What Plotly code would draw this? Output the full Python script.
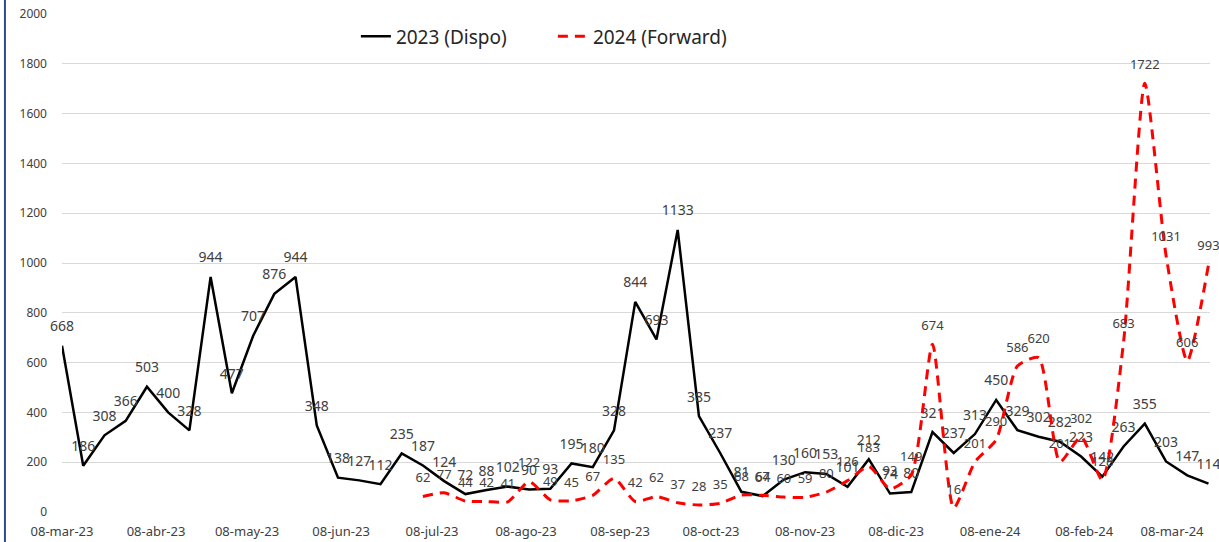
import pandas as pd
import plotly.graph_objects as go

# weekly values
dispo_2023 = [668, 186, 308, 366, 503, 400, 328, 944, 477, 707, 876, 944, 348,
              138, 127, 112, 235, 187, 124, 72, 88, 102, 90, 93, 195, 180, 328,
              844, 693, 1133, 385, 237, 81, 64, 130, 160, 153, 101, 212, 74, 80,
              321, 237, 313, 450, 329, 302, 282, 223, 142, 263, 355, 203, 147, 114]
forward_2024 = [62, 77, 44, 42, 41, 122, 49, 45, 67, 135, 42, 62, 37, 28, 35,
                68, 67, 60, 59, 80, 126, 183, 93, 149, 674, 16, 201, 290, 586,
                620, 201, 302, 128, 683, 1722, 1031, 606, 993]
dispo_start = "2023-03-08"
forward_start = "2023-07-05"

tick_dates = ["2023-03-08", "2023-04-08", "2023-05-08", "2023-06-08", "2023-07-08",
              "2023-08-08", "2023-09-08", "2023-10-08", "2023-11-08", "2023-12-08",
              "2024-01-08", "2024-02-08", "2024-03-08"]
tick_labels = ["08-mar-23", "08-abr-23", "08-may-23", "08-jun-23", "08-jul-23",
               "08-ago-23", "08-sep-23", "08-oct-23", "08-nov-23", "08-dic-23",
               "08-ene-24", "08-feb-24", "08-mar-24"]

dispo_dates = pd.date_range(dispo_start, periods=len(dispo_2023), freq="7D")
forward_dates = pd.date_range(forward_start, periods=len(forward_2024), freq="7D")

FONT = "Noto Sans"

fig = go.Figure()

fig.add_trace(go.Scatter(
    x=dispo_dates, y=dispo_2023, name="2023 (Dispo)",
    mode="lines+markers+text", cliponaxis=False,
    line=dict(color="black", width=2.5),
    marker=dict(size=16, color="rgba(0,0,0,0)"),
    text=[str(v) for v in dispo_2023], textposition="top center",
    textfont=dict(family=FONT, size=14, color="#404040"),
))

fig.add_trace(go.Scatter(
    x=forward_dates, y=forward_2024, name="2024 (Forward)",
    mode="lines+markers+text", cliponaxis=False,
    line=dict(color="#FF0000", width=3, dash="10px,7px", shape="spline", smoothing=0.6),
    marker=dict(size=16, color="rgba(0,0,0,0)"),
    text=[str(v) for v in forward_2024], textposition="top center",
    textfont=dict(family=FONT, size=13, color="#404040"),
))

fig.update_layout(
    width=1219, height=542,
    margin=dict(l=62, r=9, t=14, b=30, autoexpand=False),
    paper_bgcolor="white", plot_bgcolor="white",
    font=dict(family=FONT, color="#404040"),
    showlegend=True,
    legend=dict(orientation="h", x=0.256, y=0.955, xanchor="left", yanchor="middle",
                entrywidth=152, entrywidthmode="pixels",
                font=dict(size=19, color="#262626"), bgcolor="rgba(0,0,0,0)"),
    xaxis=dict(type="date", range=["2023-03-08", "2024-03-20 12:00"],
               tickvals=tick_dates, ticktext=tick_labels,
               showgrid=False, zeroline=False, showline=False, ticks="",
               ticklabelstandoff=10,
               tickfont=dict(size=13, color="#404040")),
    yaxis=dict(range=[0, 2000], dtick=200, gridcolor="#D9D9D9", gridwidth=1,
               zeroline=False, showline=False, ticks="", ticklabelstandoff=14,
               tickfont=dict(size=12, color="#404040")),
    shapes=[dict(type="line", xref="paper", yref="paper",
                 x0=-0.0497, x1=-0.0497, y0=-0.07, y1=1.04,
                 line=dict(color="#2F4A8A", width=2))],
)

fig.write_html("out.html", config={"displayModeBar": False},
               post_script="document.body.style.margin='0';")
